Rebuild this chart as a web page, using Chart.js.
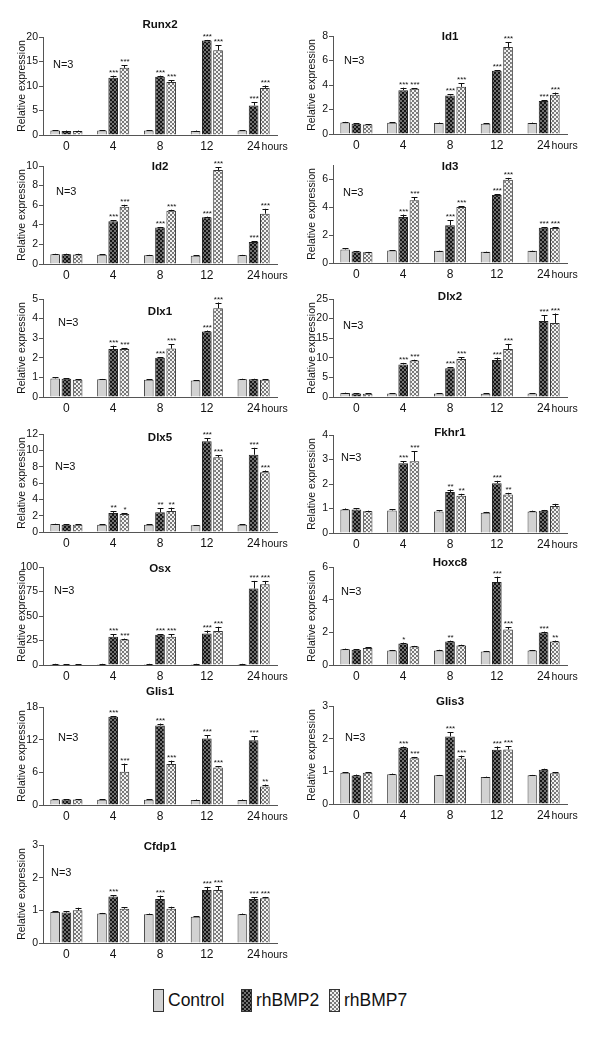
<!DOCTYPE html>
<html>
<head>
<meta charset="utf-8">
<script src="https://cdn.jsdelivr.net/npm/chart.js@4.4.0/dist/chart.umd.min.js"></script>
<style>
  body { margin: 0; background: #fff; width: 600px; height: 1039px; position: relative; overflow: hidden; font-family: "Liberation Sans", Arial, sans-serif; }
  .panel { position: absolute; }
  .legend { position: absolute; top: 989px; left: 0; width: 600px; height: 24px; }
  .legend .box { position: absolute; top: 0; width: 9px; height: 21px; border: 1px solid #333; }
  .legend .txt { position: absolute; top: 1px; font-size: 17.5px; color: #111; }
</style>
</head>
<body>
<div class="legend" id="legend"></div>
<script>
const hours = ['0', '4', '8', '12', '24'];
const genes = ['Runx2', 'Id1', 'Id2', 'Id3', 'Dlx1', 'Dlx2', 'Dlx5', 'Fkhr1', 'Osx', 'Hoxc8', 'Glis1', 'Glis3', 'Cfdp1'];
const yMax  = [20, 8, 10, 7, 5, 25, 12, 4, 100, 6, 18, 3, 3];
const yStep = [5, 2, 2, 1, 1, 5, 2, 1, 25, 2, 6, 1, 1];

// relative expression, one row per gene, columns = hours
const control = [
  [0.9, 0.9, 0.9, 0.8, 0.9],
  [0.94, 0.92, 0.9, 0.84, 0.9],
  [1.0, 0.95, 0.9, 0.85, 0.9],
  [0.97, 0.9, 0.87, 0.8, 0.87],
  [0.95, 0.9, 0.88, 0.84, 0.9],
  [1.0, 0.9, 0.9, 0.85, 0.9],
  [0.97, 0.9, 0.89, 0.82, 0.88],
  [0.96, 0.92, 0.88, 0.83, 0.88],
  [1.0, 1.0, 1.0, 1.0, 1.0],
  [0.96, 0.89, 0.89, 0.83, 0.89],
  [1.0, 0.95, 0.95, 0.9, 0.9],
  [0.96, 0.91, 0.88, 0.83, 0.88],
  [0.95, 0.9, 0.88, 0.8, 0.88]
];
const bmp2 = [
  [0.8, 11.7, 11.9, 19.3, 6.0],
  [0.84, 3.58, 3.15, 5.17, 2.7],
  [1.0, 4.36, 3.72, 4.77, 2.25],
  [0.83, 3.28, 2.69, 4.86, 2.52],
  [0.93, 2.45, 2.0, 3.34, 0.9],
  [0.9, 8.3, 7.35, 9.46, 19.4],
  [0.89, 2.34, 2.42, 11.1, 9.46],
  [0.96, 2.85, 1.67, 2.03, 0.91],
  [0.8, 28.8, 30.8, 32.2, 78],
  [0.94, 1.32, 1.44, 5.08, 1.99],
  [1.0, 16.2, 14.6, 12.2, 11.9],
  [0.87, 1.72, 2.07, 1.66, 1.05],
  [0.93, 1.42, 1.35, 1.62, 1.35]
];
const bmp7 = [
  [0.8, 13.7, 10.8, 17.3, 9.6],
  [0.78, 3.7, 3.85, 7.1, 3.2],
  [0.98, 5.84, 5.44, 9.6, 5.13],
  [0.77, 4.48, 4.0, 5.94, 2.5],
  [0.88, 2.45, 2.47, 4.53, 0.88],
  [0.85, 9.3, 9.7, 12.25, 18.9],
  [0.89, 2.2, 2.58, 9.14, 7.33],
  [0.89, 2.93, 1.52, 1.57, 1.1],
  [0.7, 26.1, 28.8, 34.6, 82.4],
  [1.04, 1.14, 1.2, 2.17, 1.44],
  [1.0, 6.1, 7.55, 6.9, 3.4],
  [0.96, 1.4, 1.39, 1.67, 0.94],
  [1.0, 1.05, 1.05, 1.62, 1.37]
];

// SEM (upper error bar only)
const errControl = [
  [0.1, 0.1, 0.1, 0.1, 0.1],
  [0.05, 0.03, 0.03, 0.03, 0.03],
  [0.04, 0.03, 0.03, 0.03, 0.03],
  [0.08, 0.02, 0.02, 0.02, 0.02],
  [0.06, 0.02, 0.03, 0.02, 0.03],
  [0.1, 0.1, 0.1, 0.1, 0.1],
  [0.04, 0.04, 0.04, 0.04, 0.04],
  [0.04, 0.04, 0.04, 0.03, 0.03],
  [0.2, 0.2, 0.2, 0.2, 0.2],
  [0.04, 0.03, 0.04, 0.03, 0.03],
  [0.1, 0.1, 0.1, 0.1, 0.1],
  [0.01, 0.02, 0.01, 0.01, 0.01],
  [0.03, 0.02, 0.02, 0.02, 0.02]
];
const errBmp2 = [
  [0.1, 0.4, 0.2, 0.1, 0.7],
  [0.03, 0.2, 0.08, 0.05, 0.05],
  [0.05, 0.08, 0.06, 0.06, 0.08],
  [0.03, 0.18, 0.35, 0.04, 0.03],
  [0.03, 0.17, 0.03, 0.05, 0.03],
  [0.1, 0.4, 0.2, 0.6, 1.4],
  [0.03, 0.2, 0.5, 0.4, 0.85],
  [0.05, 0.07, 0.1, 0.1, 0.03],
  [0.2, 2.4, 0.6, 3.0, 7.8],
  [0.03, 0.05, 0.05, 0.33, 0.05],
  [0.1, 0.15, 0.35, 0.65, 0.7],
  [0.03, 0.04, 0.13, 0.1, 0.03],
  [0.05, 0.04, 0.1, 0.1, 0.05]
];
const errBmp7 = [
  [0.1, 0.5, 0.4, 1.0, 0.5],
  [0.02, 0.05, 0.3, 0.4, 0.18],
  [0.06, 0.2, 0.1, 0.27, 0.5],
  [0.02, 0.2, 0.05, 0.14, 0.05],
  [0.03, 0.05, 0.23, 0.29, 0.03],
  [0.1, 0.2, 0.5, 1.3, 2.4],
  [0.03, 0.08, 0.4, 0.25, 0.2],
  [0.02, 0.4, 0.08, 0.07, 0.09],
  [0.2, 0.8, 2.5, 4.4, 3.4],
  [0.05, 0.03, 0.04, 0.15, 0.05],
  [0.1, 1.5, 0.6, 0.25, 0.35],
  [0.02, 0.04, 0.09, 0.1, 0.03],
  [0.08, 0.05, 0.06, 0.12, 0.04]
];

const starsBmp2 = [
  ['', '***', '***', '***', '***'],
  ['', '***', '***', '***', '***'],
  ['', '***', '***', '***', '***'],
  ['', '***', '***', '***', '***'],
  ['', '***', '***', '***', ''],
  ['', '***', '***', '***', '***'],
  ['', '**', '**', '***', '***'],
  ['', '***', '**', '***', ''],
  ['', '***', '***', '***', '***'],
  ['', '*', '**', '***', '***'],
  ['', '***', '***', '***', '***'],
  ['', '***', '***', '***', ''],
  ['', '***', '***', '***', '***']
];
const starsBmp7 = [
  ['', '***', '***', '***', '***'],
  ['', '***', '***', '***', '***'],
  ['', '***', '***', '***', '***'],
  ['', '***', '***', '***', '***'],
  ['', '***', '***', '***', ''],
  ['', '***', '***', '***', '***'],
  ['', '*', '**', '***', '***'],
  ['', '***', '**', '**', ''],
  ['', '***', '***', '***', '***'],
  ['', '', '', '***', '**'],
  ['', '***', '***', '***', '**'],
  ['', '***', '***', '***', ''],
  ['', '', '', '***', '***']
];

// panel layout (pixels)
const plotTop = [37, 36, 166, 165, 299, 299, 434, 435, 567, 567, 707, 706, 845];
const titleDy = [-12, 1, 1, 2, 13, -2, 4, -2, 2, -4, -15, -4, 2];
const nOffset = [[22, 28], [23, 25], [25, 26], [22, 28], [27, 24], [22, 27], [24, 33], [20, 23], [23, 24], [20, 25], [27, 31], [24, 32], [20, 28]];
const PLOT_H = 98, PLOT_W = 234, AXIS_W = 45, PAD_TOP = 24, PAD_RIGHT = 26, X_H = 22;
const FONT = '"Liberation Sans", Arial, sans-serif';

function tile(c1, c2) {
  const cv = document.createElement('canvas');
  cv.width = cv.height = 4;
  const g = cv.getContext('2d');
  g.fillStyle = c1; g.fillRect(0, 0, 4, 4);
  g.fillStyle = c2; g.fillRect(0, 0, 2, 2); g.fillRect(2, 2, 2, 2);
  return cv;
}
const tileBmp2 = tile('#151515', '#707070');
const tileBmp7 = tile('#f2f2f2', '#7a7a7a');
const patBmp2 = tileBmp2.getContext('2d').createPattern(tileBmp2, 'repeat');
const patBmp7 = tileBmp7.getContext('2d').createPattern(tileBmp7, 'repeat');

const decor = {
  id: 'decor',
  afterDatasetsDraw(chart) {
    const ctx = chart.ctx;
    const y = chart.scales.y;
    ctx.save();
    chart.data.datasets.forEach((ds, di) => {
      const meta = chart.getDatasetMeta(di);
      meta.data.forEach((bar, j) => {
        const top = y.getPixelForValue(ds.data[j] + ds.errors[j]);
        ctx.strokeStyle = '#111';
        ctx.lineWidth = 1;
        ctx.beginPath();
        ctx.moveTo(Math.round(bar.x) + 0.5, bar.y);
        ctx.lineTo(Math.round(bar.x) + 0.5, top);
        ctx.moveTo(Math.round(bar.x) - 2.5, Math.round(top) + 0.5);
        ctx.lineTo(Math.round(bar.x) + 3.5, Math.round(top) + 0.5);
        ctx.stroke();
        const s = ds.stars ? ds.stars[j] : '';
        if (s) {
          ctx.fillStyle = '#111';
          ctx.font = '8px ' + FONT;
          ctx.textAlign = 'center';
          ctx.textBaseline = 'alphabetic';
          ctx.fillText(s, bar.x + 0.5, top - 1);
        }
      });
    });
    ctx.restore();
  },
  afterDraw(chart, args, opts) {
    const ctx = chart.ctx;
    const a = chart.chartArea;
    const x = chart.scales.x;
    ctx.save();
    ctx.fillStyle = '#111';
    ctx.textAlign = 'center';
    ctx.textBaseline = 'middle';
    ctx.font = 'bold 11.5px ' + FONT;
    ctx.fillText(opts.title, (a.left + a.right) / 2, a.top + opts.titleDy);
    ctx.font = '11px ' + FONT;
    ctx.textAlign = 'left';
    ctx.fillText('N=3', a.left + opts.nDx - 12, a.top + opts.nDy);
    ctx.font = '10.5px ' + FONT;
    ctx.fillText('hours', x.getPixelForTick(4) + 8, a.bottom + 12);
    ctx.translate(a.left - 21, (a.top + a.bottom) / 2);
    ctx.rotate(-Math.PI / 2);
    ctx.textAlign = 'center';
    ctx.fillText('Relative expression', 0, 0);
    ctx.restore();
  }
};

genes.forEach((gene, i) => {
  const col = i % 2;
  const axisX = col === 0 ? 43 : 333;
  const div = document.createElement('div');
  div.className = 'panel';
  const w = AXIS_W + PLOT_W + PAD_RIGHT;
  const h = PAD_TOP + PLOT_H + X_H;
  div.style.left = (axisX - AXIS_W) + 'px';
  div.style.top = (plotTop[i] - PAD_TOP) + 'px';
  const canvas = document.createElement('canvas');
  canvas.width = w;
  canvas.height = h;
  div.appendChild(canvas);
  document.body.appendChild(div);

  new Chart(canvas.getContext('2d'), {
    type: 'bar',
    data: {
      labels: hours,
      datasets: [
        { label: 'Control', data: control[i], errors: errControl[i], backgroundColor: '#d2d2d2', borderColor: '#3c3c3c', borderWidth: 1 },
        { label: 'rhBMP2', data: bmp2[i], errors: errBmp2[i], stars: starsBmp2[i], backgroundColor: patBmp2, borderColor: '#222', borderWidth: 1 },
        { label: 'rhBMP7', data: bmp7[i], errors: errBmp7[i], stars: starsBmp7[i], backgroundColor: patBmp7, borderColor: '#333', borderWidth: 1 }
      ]
    },
    options: {
      responsive: false,
      animation: false,
      devicePixelRatio: 1,
      layout: { padding: { top: PAD_TOP, right: PAD_RIGHT, left: 0, bottom: 0 } },
      datasets: { bar: { categoryPercentage: 0.72, barPercentage: 0.86 } },
      plugins: {
        legend: { display: false },
        title: { display: false },
        tooltip: { enabled: false },
        decor: { title: gene, titleDy: titleDy[i], nDx: nOffset[i][0], nDy: nOffset[i][1] }
      },
      scales: {
        x: {
          grid: { display: false, drawTicks: false },
          border: { color: '#555', width: 1 },
          ticks: { color: '#111', font: { size: 12, family: FONT }, padding: 4, maxRotation: 0 },
          afterFit: s => { s.height = X_H; }
        },
        y: {
          min: 0,
          max: yMax[i],
          grid: { drawOnChartArea: false, drawTicks: true, tickLength: 4, color: '#555' },
          border: { color: '#555', width: 1 },
          ticks: { stepSize: yStep[i], color: '#111', font: { size: 10.5, family: FONT }, padding: 1 },
          afterFit: s => { s.width = AXIS_W; }
        }
      }
    },
    plugins: [decor]
  });
});

// legend
const legendItems = [
  { name: 'Control', fill: '#d2d2d2', left: 153 },
  { name: 'rhBMP2', fill: 'url(' + tileBmp2.toDataURL() + ')', left: 241 },
  { name: 'rhBMP7', fill: 'url(' + tileBmp7.toDataURL() + ')', left: 329 }
];
const legend = document.getElementById('legend');
legendItems.forEach(item => {
  const b = document.createElement('div');
  b.className = 'box';
  b.style.left = item.left + 'px';
  b.style.background = item.fill;
  legend.appendChild(b);
  const t = document.createElement('div');
  t.className = 'txt';
  t.style.left = (item.left + 15) + 'px';
  t.textContent = item.name;
  legend.appendChild(t);
});
</script>
</body>
</html>
